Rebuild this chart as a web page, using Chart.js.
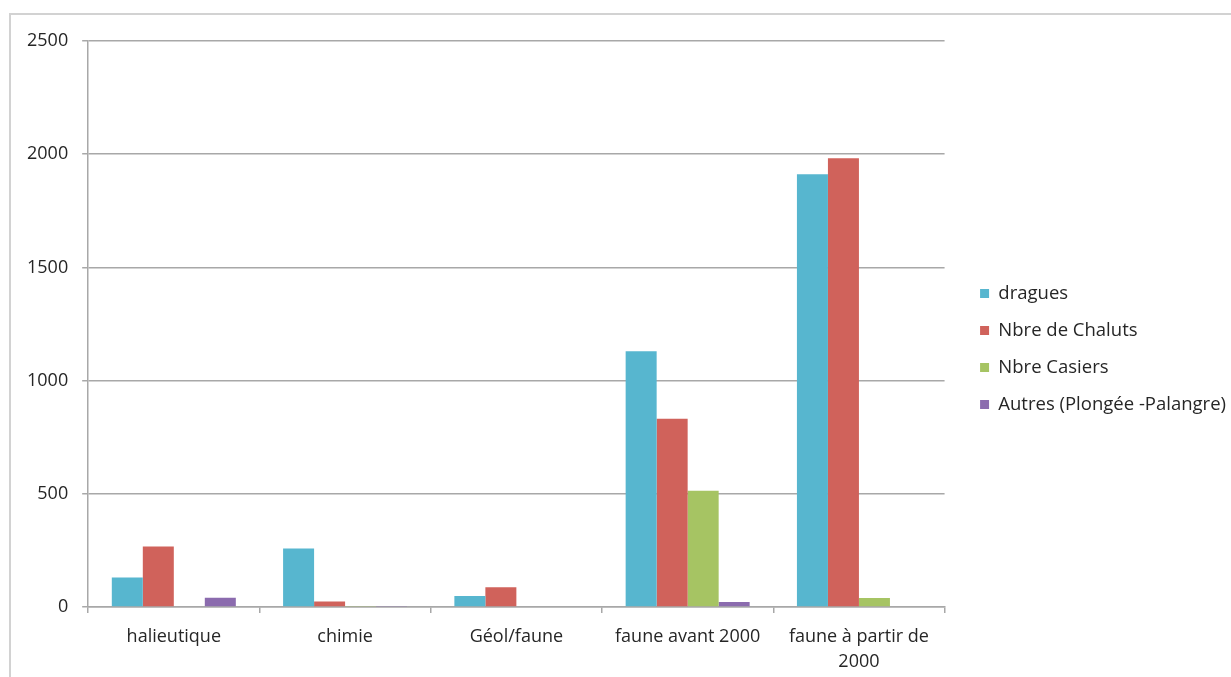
<!DOCTYPE html>
<html>
<head>
<meta charset="utf-8">
<script src="https://cdn.jsdelivr.net/npm/chart.js@4.4.1/dist/chart.umd.min.js"></script>
<style>
  html, body { margin: 0; padding: 0; background: #ffffff; overflow: hidden; }
  #frame { position: absolute; left: 9px; top: 13px; width: 1300px; height: 800px; border: 2px solid #d2d2d2; box-sizing: border-box; }
  #wrap { position: absolute; left: 0; top: 0; width: 1231px; height: 677px; }
</style>
</head>
<body>
<div id="frame"></div>
<div id="wrap"><canvas id="c" width="1231" height="677"></canvas></div>
<script>
const categories = ["halieutique", "chimie", "Géol/faune", "faune avant 2000", ["faune à partir de", "2000"]];
const seriesNames = ["dragues", "Nbre de Chaluts", "Nbre Casiers", "Autres (Plongée -Palangre)"];
const dragues = [130, 258, 49, 1130, 1911];
const chaluts = [267, 24, 87, 832, 1982];
const casiers = [0, 2, 3, 513, 40];
const autres = [41, 2, 3, 22, 3];
const yTicks = [0, 500, 1000, 1500, 2000, 2500];
const colors = ["#57b6cf", "#d0625b", "#a6c463", "#8b6bae"];

const values = [dragues, chaluts, casiers, autres];
const FONT = "'Open Sans', sans-serif";
const TEXT = '#262626';

const legendShift = {
  id: 'legendShift',
  afterLayout(chart) {
    const lg = chart.legend;
    if (!lg) return;
    lg.left += 17; lg.right += 17;
    lg.top -= 10; lg.bottom -= 10;
  }
};

new Chart(document.getElementById('c'), {
  type: 'bar',
  data: {
    labels: categories,
    datasets: values.map((v, i) => ({
      label: seriesNames[i],
      data: v,
      backgroundColor: colors[i],
      borderWidth: 0,
      categoryPercentage: 0.724,
      barPercentage: 1.0
    }))
  },
  plugins: [legendShift],
  options: {
    responsive: false,
    animation: false,
    devicePixelRatio: 1,
    layout: { padding: { left: 13, top: 41, right: 12, bottom: 0 } },
    plugins: {
      tooltip: { enabled: false },
      legend: {
        position: 'right',
        align: 'center',
        labels: {
          boxWidth: 9,
          boxHeight: 9,
          padding: 18.5,
          color: TEXT,
          font: { family: FONT, size: 18.5 }
        }
      }
    },
    scales: {
      x: {
        offset: true,
        afterFit: (axis) => { axis.height = 70; },
        grid: {
          offset: true,
          drawOnChartArea: false,
          drawTicks: true,
          tickLength: 6,
          color: '#a8a8a8',
          lineWidth: 1.5
        },
        border: { display: true, color: '#a8a8a8', width: 1.5 },
        ticks: {
          color: TEXT,
          font: { family: FONT, size: 18, lineHeight: 1.35 },
          padding: 12,
          maxRotation: 0,
          autoSkip: false
        }
      },
      y: {
        min: 0,
        max: 2500,
        afterBuildTicks: (axis) => { axis.ticks = yTicks.map(v => ({ value: v })); },
        grid: {
          color: '#a8a8a8',
          lineWidth: 1.5,
          drawTicks: true,
          tickLength: 6
        },
        border: { display: true, color: '#a8a8a8', width: 1.5 },
        ticks: {
          color: TEXT,
          font: { family: FONT, size: 18 },
          padding: 14,
          callback: (v) => String(v)
        }
      }
    }
  }
});
</script>
</body>
</html>
